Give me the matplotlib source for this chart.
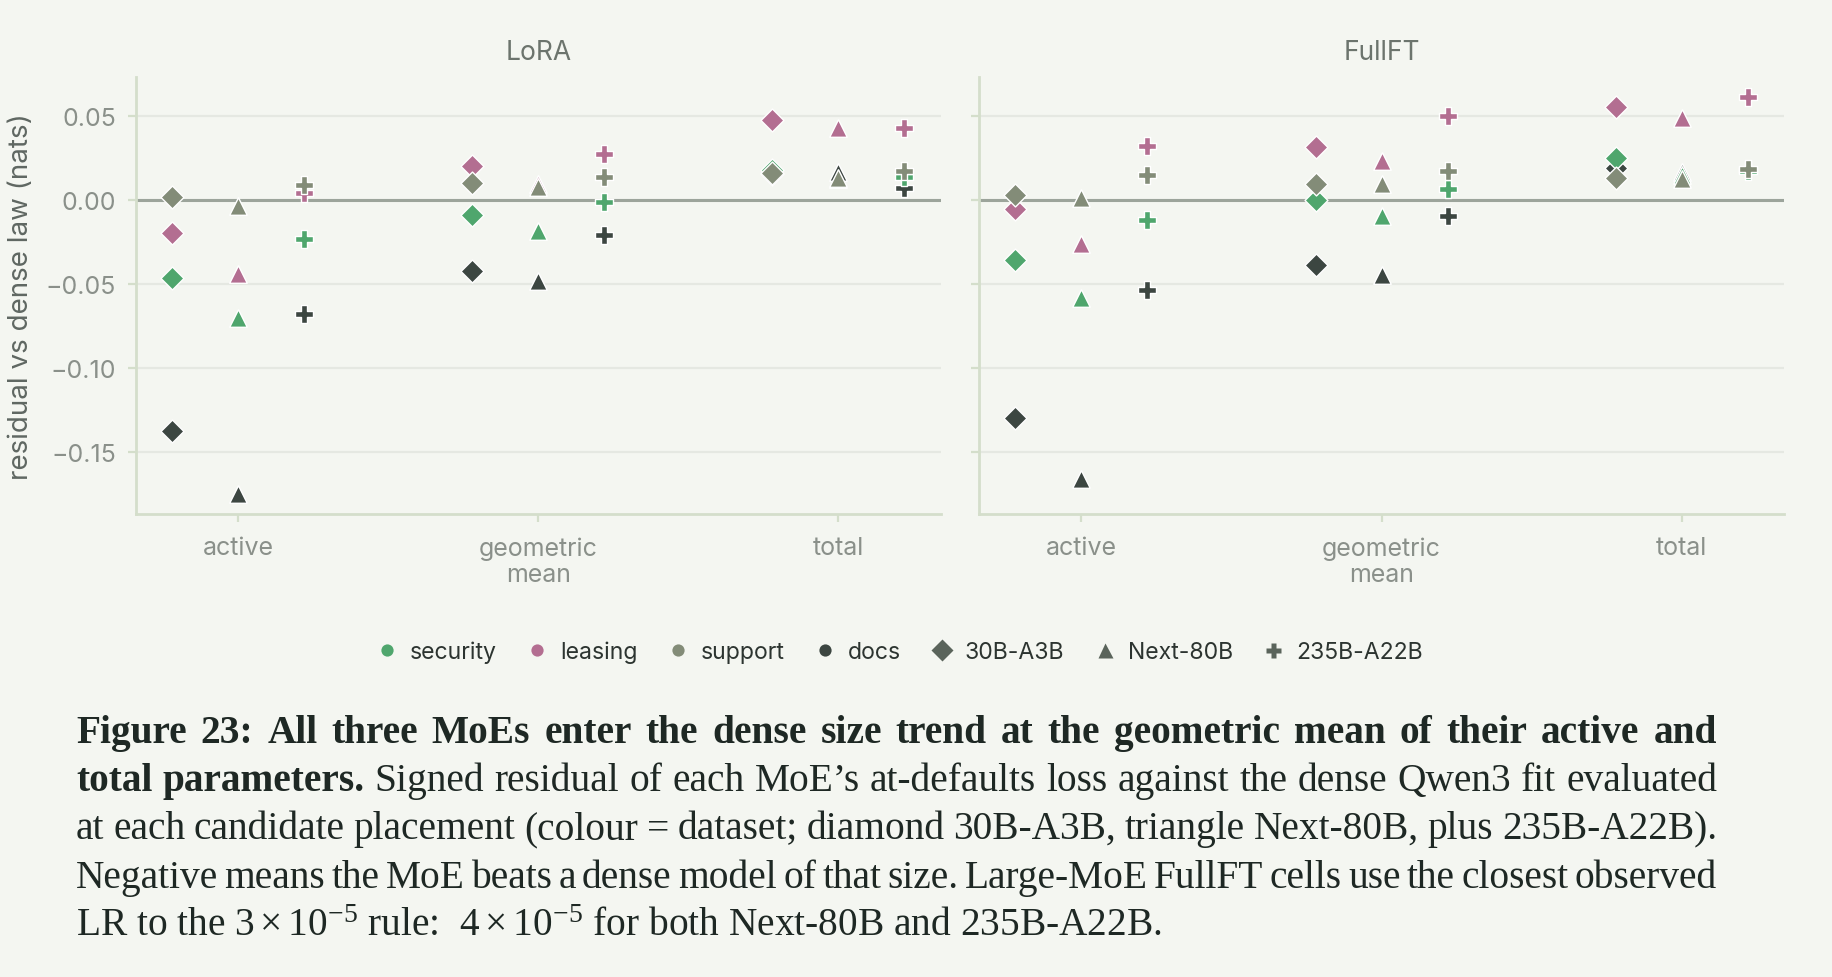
import matplotlib
matplotlib.use("Agg")
import matplotlib.pyplot as plt
from matplotlib.lines import Line2D
from matplotlib.ticker import FuncFormatter

# ---------------- data ----------------
placements = ["active", "geometric\nmean", "total"]
datasets = ["security", "leasing", "support", "docs"]
models = ["30B-A3B", "Next-80B", "235B-A22B"]
panels = ["LoRA", "FullFT"]

# residual vs dense law (nats) at [active, geometric mean, total]
lora_30b = {"security": [-0.0466, -0.0088, 0.0180],
            "leasing": [-0.0195, 0.0204, 0.0482],
            "support": [0.0022, 0.0101, 0.0165],
            "docs": [-0.1375, -0.0424, 0.0160]}
lora_next = {"security": [-0.0700, -0.0183, 0.0127],
             "leasing": [-0.0437, 0.0097, 0.0429],
             "support": [-0.0035, 0.0080, 0.0135],
             "docs": [-0.1752, -0.0480, 0.0170]}
lora_235 = {"security": [-0.0228, -0.0008, 0.0141],
            "leasing": [0.0042, 0.0274, 0.0433],
            "support": [0.0091, 0.0139, 0.0174],
            "docs": [-0.0677, -0.0207, 0.0076]}
full_30b = {"security": [-0.0355, 0.0002, 0.0250],
            "leasing": [-0.0052, 0.0321, 0.0558],
            "support": [0.0032, 0.0095, 0.0131],
            "docs": [-0.1300, -0.0385, 0.0195]}
full_next = {"security": [-0.0583, -0.0095, 0.0150],
             "leasing": [-0.0260, 0.0234, 0.0492],
             "support": [0.0012, 0.0095, 0.0127],
             "docs": [-0.1660, -0.0445, 0.0170]}
full_235 = {"security": [-0.0115, 0.0065, 0.0175],
            "leasing": [0.0323, 0.0504, 0.0617],
            "support": [0.0149, 0.0174, 0.0185],
            "docs": [-0.0536, -0.0093, 0.0180]}

panel_data = {"LoRA": [lora_30b, lora_next, lora_235],
              "FullFT": [full_30b, full_next, full_235]}

# ---------------- style ----------------
BG = "#f4f6f1"
colors = {"security": "#4fa66d", "leasing": "#b36e91",
          "support": "#838c78", "docs": "#3c4641"}
markers = ["D", "^", "P"]
msizes = [34, 40, 44]
offsets = [-0.22, 0.0, 0.22]
SPINE = "#d4decb"
TICKLBL = "#8a908a"
FONT = ["Inter", "DejaVu Sans"]

plt.rcParams["font.family"] = FONT
plt.rcParams["mathtext.fontset"] = "custom"
plt.rcParams["mathtext.rm"] = "Liberation Serif"
plt.rcParams["mathtext.it"] = "Liberation Serif:italic"
plt.rcParams["mathtext.bf"] = "Liberation Serif:bold"

W, H, DPI = 1832, 978, 200
fig = plt.figure(figsize=(W / DPI, H / DPI), dpi=DPI, facecolor=BG)

ax_top, ax_bot = 78, 515
ax_lefts = [135.5, 978.8]
ax_w = 805.5
axes = []
for i, p in enumerate(panels):
    rect = [ax_lefts[i] / W, 1 - ax_bot / H, ax_w / W, (ax_bot - ax_top) / H]
    ax = fig.add_axes(rect, sharey=axes[0] if axes else None)
    axes.append(ax)

draw_order = sorted(datasets)  # docs, leasing, security, support
for ax, p in zip(axes, panels):
    ax.set_facecolor(BG)
    for mi, mdict in enumerate(panel_data[p]):
        for d in draw_order:
            xs = [k + offsets[mi] for k in range(len(placements))]
            ax.scatter(xs, mdict[d], marker=markers[mi], s=msizes[mi],
                       color=colors[d], edgecolor="white", linewidth=0.5,
                       zorder=3)
    ax.axhline(0, color="#9ca49b", lw=1.1, zorder=2)
    ax.yaxis.grid(True, color="#e5e8e2", lw=0.8)
    ax.set_axisbelow(True)
    ax.set_xticks(range(len(placements)))
    ax.set_xticklabels(placements, linespacing=1.2)
    ax.set_yticks([-0.15, -0.10, -0.05, 0.0, 0.05])
    for s in ("top", "right"):
        ax.spines[s].set_visible(False)
    for s in ("left", "bottom"):
        ax.spines[s].set_color(SPINE)
        ax.spines[s].set_linewidth(1.0)
    ax.tick_params(colors=SPINE, labelcolor=TICKLBL, labelsize=9,
                   length=3, width=0.8)
    ax.tick_params(axis="x", pad=5)
    ax.tick_params(axis="y", pad=4)
    ax.set_title(p, color="#6c746d", fontsize=9.5, pad=6.5)

axes[0].yaxis.set_major_formatter(
    FuncFormatter(lambda v, pos: f"{v:.2f}".replace("-", "\u2212")))
axes[1].tick_params(labelleft=False)

fig.text(21 / W, 1 - 297 / H, "residual vs dense law (nats)", rotation=90,
         ha="center", va="center", fontsize=10, color="#5f6762")

# ---------------- legend ----------------
handles, labels = [], []
for d in datasets:
    handles.append(Line2D([], [], ls="", marker="o", ms=4.4, color=colors[d],
                          markeredgecolor="none"))
    labels.append(d)
for mk, m in zip(markers, models):
    handles.append(Line2D([], [], ls="", marker=mk, ms=5.4, color="#5a645b",
                          markeredgecolor="none"))
    labels.append(m)
leg = fig.legend(handles, labels, loc="center",
                 bbox_to_anchor=(899 / W, 1 - 653 / H), ncol=7, frameon=False,
                 fontsize=8.3, handletextpad=0.5, columnspacing=1.25,
                 handlelength=1.0)
for t in leg.get_texts():
    t.set_color("#2c3430")

# ---------------- caption (justified) ----------------
CAP_FONT = "Liberation Serif"
CAP_SIZE = 14.2
CAP_COLOR = "#1e2824"
left_px, right_px = 76, 1717
baselines = [743, 791, 839, 888, 936]

cap_lines = [
    [("Figure 23:  All three MoEs enter the dense size trend at the geometric mean of their active and", "bold")],
    [("total parameters.", "bold"),
     ("Signed residual of each MoE\u2019s at-defaults loss against the dense Qwen3 fit evaluated", "normal")],
    [("at each candidate placement (colour = dataset; diamond 30B-A3B, triangle Next-80B, plus 235B-A22B).", "normal")],
    [("Negative means the MoE beats a dense model of that size.  Large-MoE FullFT cells use the closest observed", "normal")],
]
last_line = r"LR to the $3\times10^{-5}$ rule:  $4\times10^{-5}$ for both Next-80B and 235B-A22B."

renderer = fig.canvas.get_renderer()
for li, segs in enumerate(cap_lines):
    words = []
    for txt, wt in segs:
        for w in txt.split():
            words.append((w, wt))
    objs, widths = [], []
    for w, wt in words:
        t = fig.text(0, 1 - baselines[li] / H, w, fontfamily=CAP_FONT,
                     fontsize=CAP_SIZE, fontweight=wt, color=CAP_COLOR,
                     ha="left", va="baseline")
        objs.append(t)
        widths.append(t.get_window_extent(renderer).width)
    gap = (right_px - left_px - sum(widths)) / (len(words) - 1)
    x = left_px
    for t, wd in zip(objs, widths):
        t.set_x(x / W)
        x += wd + gap

fig.text(left_px / W, 1 - baselines[4] / H, last_line, fontfamily=CAP_FONT,
         fontsize=CAP_SIZE, color=CAP_COLOR, ha="left", va="baseline")

fig.savefig("out.png", dpi=DPI, facecolor=BG)
